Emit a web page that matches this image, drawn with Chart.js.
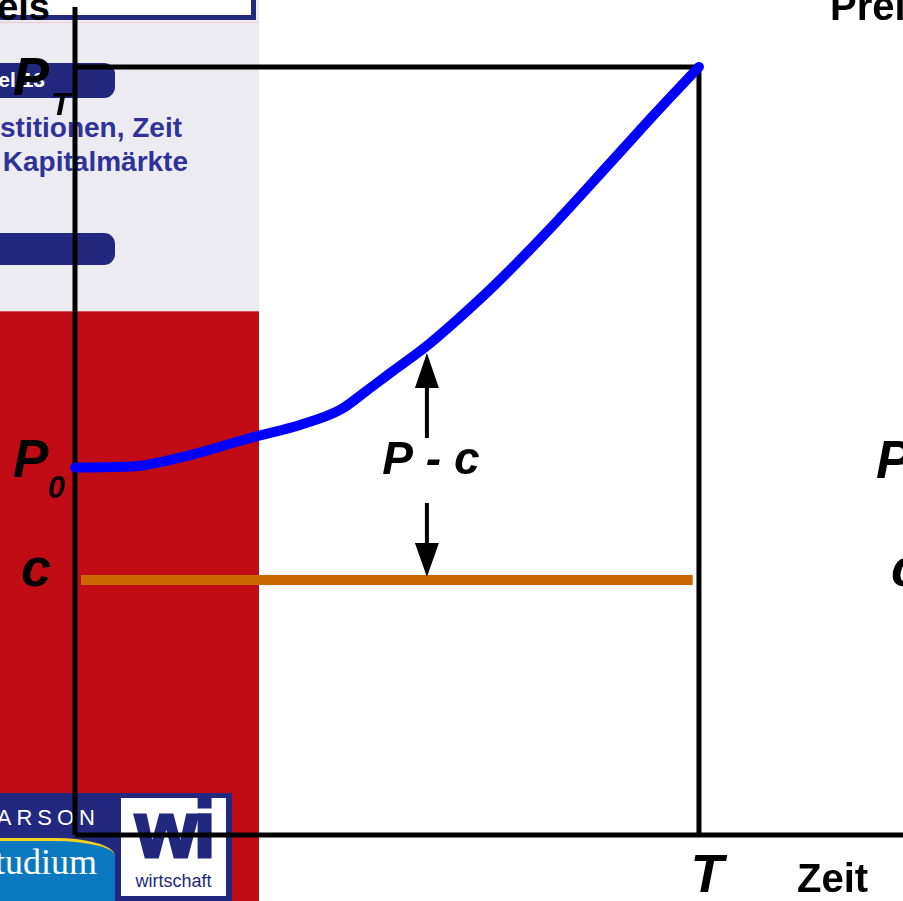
<!DOCTYPE html>
<html>
<head>
<meta charset="utf-8">
<script src="https://cdn.jsdelivr.net/npm/chart.js@4/dist/chart.umd.min.js"></script>
<style>
  html, body { margin: 0; padding: 0; background: #fff; }
  #wrap { position: relative; width: 903px; height: 901px; overflow: hidden; background: #fff;
          font-family: 'Liberation Sans', Arial, sans-serif; }
  .abs { position: absolute; }
  #grey { left: 0; top: 0; width: 259px; height: 311px; background: #EBEBF1; }
  #red { left: 0; top: 311px; width: 259px; height: 590px; background: #C10C15; border-top: 1px solid #d9525a; box-sizing: border-box; }
  #topbox { left: -10px; top: -10px; width: 256px; height: 20px; background: #fff; border: 5px solid #23287F; }
  #pinkline { left: 0; top: 22px; width: 259px; height: 1px; background: #f1c9cf; }
  .bar { left: -30px; width: 145px; background: #23287F; border-radius: 11px; }
  #bar1 { top: 63px; height: 35px; }
  #bar2 { top: 233px; height: 32px; }
  .rtext { white-space: nowrap; text-align: right; font-weight: bold; }
  #kap { right: calc(903px - 45px); top: 67px; color: #fff; font-size: 21px; line-height: 26px; }
  #inv1 { right: calc(903px - 182px); top: 112px; color: #30329A; font-size: 28px; line-height: 32px; }
  #inv2 { right: calc(903px - 188px); top: 146px; color: #30329A; font-size: 28px; line-height: 32px; }
  #preisL { right: calc(903px - 50px); top: -14px; color: #000; font-size: 38px; line-height: 42px; }
  #logo { left: 0; top: 793px; width: 232px; height: 108px; background: #23287F; overflow: hidden; }
  #pearson { right: calc(232px - 100px); top: 12px; color: #fff; font-size: 22px; letter-spacing: 5px; white-space: nowrap; line-height: 26px; }
  #studium { left: -40px; top: 45px; width: 155px; height: 70px; background: #0B79C0;
             border-top: 3px solid #F2D21B; border-top-right-radius: 60px 18px; }
  #studtxt { right: calc(232px - 97px); top: 49px; color: #fff; font-family: 'Liberation Serif', 'Times New Roman', serif; font-size: 36px; line-height: 40px; white-space: nowrap; }
  #wibox { left: 121px; top: 5px; width: 105px; height: 98px; background: #fff; }
  #wi { left: 0; width: 105px; top: -8px; text-align: center; color: #23287F; font-weight: bold; font-size: 80px; line-height: 80px; letter-spacing: -4px; -webkit-text-stroke: 3px #23287F; }
  #wirt { left: 0; width: 105px; top: 73px; text-align: center; color: #23287F; font-size: 18px; line-height: 20px; }
  #chart { position: absolute; left: 0; top: 0; }
</style>
</head>
<body>
<div id="wrap">
  <div id="grey" class="abs"></div>
  <div id="red" class="abs"></div>
  <div id="topbox" class="abs"></div>
  <div id="pinkline" class="abs"></div>
  <div id="preisL" class="abs rtext">Preis</div>
  <div id="bar1" class="abs bar"></div>
  <div id="bar2" class="abs bar"></div>
  <div id="kap" class="abs rtext">Kapitel 13</div>
  <div id="inv1" class="abs rtext">Investitionen, Zeit</div>
  <div id="inv2" class="abs rtext">und Kapitalmärkte</div>
  <div id="logo" class="abs">
    <div id="pearson" class="abs">PEARSON</div>
    <div id="studium" class="abs"></div>
    <div id="studtxt" class="abs">Studium</div>
    <div id="wibox" class="abs">
      <div id="wi" class="abs">wi</div>
      <div id="wirt" class="abs">wirtschaft</div>
    </div>
  </div>
  <canvas id="chart" width="903" height="901"></canvas>
</div>
<script>
// ---- data (time 0..T = 0..100, price P_T = 100) ----
const timeValues  = [0, 9.29, 17.31, 28.04, 36.06, 42.47, 46.47, 50.96, 55.77, 61.22, 67.63, 75.64, 86.22, 92.63, 100];
const priceValues = [47.85, 47.98, 49.22, 51.69, 53.39, 55.34, 57.68, 60.42, 63.28, 67.06, 71.88, 78.52, 87.89, 93.62, 100];
const costStart = 0.96, costEnd = 99.0;
const costLevel = 33.2;
const T_END = 100;        // time T
const P_T = 100;          // final price
const arrowTime = 56.4;   // x position of the P - c arrows
const upArrow   = [51.69, 58.2, 62.76];   // shaft start, head base, tip
const downArrow = [43.23, 38.02, 33.59];
const xMax = 132.7, yMax = 107.8;

const F = "'Liberation Sans', Arial, sans-serif";

const labelPlugin = {
  id: 'labels',
  afterDatasetsDraw(chart) {
    const ctx = chart.ctx, xs = chart.scales.x, ys = chart.scales.y;
    const ax = xs.getPixelForValue(arrowTime);
    ctx.save();
    ctx.fillStyle = '#000';
    [[upArrow[1], upArrow[2]], [downArrow[1], downArrow[2]]].forEach(([base, tip]) => {
      const yb = ys.getPixelForValue(base), yt = ys.getPixelForValue(tip);
      ctx.beginPath();
      ctx.moveTo(ax, yt);
      ctx.lineTo(ax - 12, yb);
      ctx.lineTo(ax + 12, yb);
      ctx.closePath();
      ctx.fill();
    });
    const txt = (s, x, y, size, style, align) => {
      ctx.font = style + ' ' + size + 'px ' + F;
      ctx.textAlign = align || 'left';
      ctx.textBaseline = 'alphabetic';
      ctx.fillText(s, x, y);
    };
    const yPT = ys.getPixelForValue(P_T);
    const yP0 = ys.getPixelForValue(priceValues[0]);
    const yC  = ys.getPixelForValue(costLevel);
    const xT  = xs.getPixelForValue(T_END);
    const yAx = ys.getPixelForValue(0);
    const yMid = (ys.getPixelForValue(upArrow[0]) + ys.getPixelForValue(downArrow[0])) / 2;
    txt('P', 13, yPT + 28, 54, 'italic bold');
    txt('T', 51, yPT + 48, 32, 'italic bold');
    txt('P', 13, yP0 + 10, 53, 'italic bold');
    txt('0', 48, yP0 + 31, 31, 'italic bold');
    txt('c', 21, yC + 6, 54, 'italic bold');
    txt('P - c', ax + 4, yMid + 4, 46, 'italic bold', 'center');
    txt('T', xT + 8, yAx + 57, 54, 'italic bold', 'center');
    txt('Zeit', 797, yAx + 57, 40, 'bold');
    txt('Preis', 830, 20, 40, 'bold');
    txt('P', 876, yP0 + 11, 53, 'italic bold');
    txt('c', 891, yC + 6, 54, 'italic bold');
    ctx.restore();
  }
};

const pts = (xsArr, ysArr) => xsArr.map((x, i) => ({ x, y: ysArr[i] }));
const base = { pointRadius: 0, clip: false, fill: false, tension: 0 };

new Chart(document.getElementById('chart'), {
  type: 'line',
  data: {
    datasets: [
      Object.assign({}, base, { label: 'Preis', data: pts(timeValues, priceValues), borderColor: '#0000FF',
        borderWidth: 10, borderCapStyle: 'round', borderJoinStyle: 'round', cubicInterpolationMode: 'monotone' }),
      Object.assign({}, base, { label: 'c', data: pts([costStart, costEnd], [costLevel, costLevel]),
        borderColor: '#CC6600', borderWidth: 10, borderCapStyle: 'butt' }),
      Object.assign({}, base, { label: 'up', data: pts([arrowTime, arrowTime], [upArrow[0], upArrow[1]]),
        borderColor: '#000', borderWidth: 4 }),
      Object.assign({}, base, { label: 'down', data: pts([arrowTime, arrowTime], [downArrow[0], downArrow[1]]),
        borderColor: '#000', borderWidth: 4 }),
      Object.assign({}, base, { label: 'PT', data: pts([0, T_END], [P_T, P_T]), borderColor: '#000', borderWidth: 5 }),
      Object.assign({}, base, { label: 'T', data: pts([T_END, T_END], [0, P_T]), borderColor: '#000', borderWidth: 5 }),
      Object.assign({}, base, { label: 'yaxis', data: pts([0, 0], [0, yMax]), borderColor: '#000', borderWidth: 5 }),
      Object.assign({}, base, { label: 'xaxis', data: pts([0, xMax], [0, 0]), borderColor: '#000', borderWidth: 5 })
    ]
  },
  options: {
    responsive: false,
    devicePixelRatio: 1,
    animation: false,
    layout: { padding: { left: 75, top: 7, right: 0, bottom: 66 } },
    plugins: { legend: { display: false }, tooltip: { enabled: false } },
    scales: {
      x: { type: 'linear', min: 0, max: xMax, display: false },
      y: { type: 'linear', min: 0, max: yMax, display: false }
    }
  },
  plugins: [labelPlugin]
});
</script>
</body>
</html>
